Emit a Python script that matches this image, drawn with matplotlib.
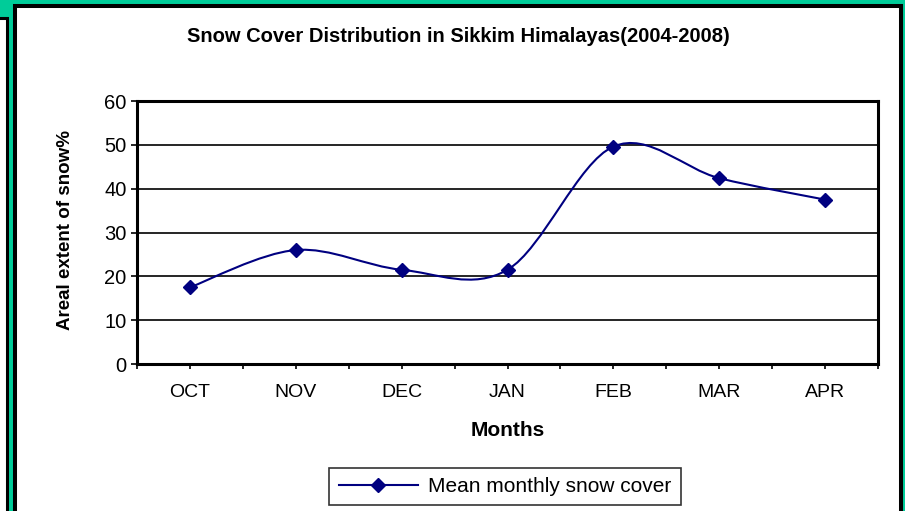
import numpy as np
import matplotlib
matplotlib.use('Agg')
import matplotlib.pyplot as plt
from matplotlib.path import Path
from matplotlib.patches import PathPatch, Rectangle
from matplotlib.lines import Line2D

plt.rcParams['font.family'] = ['Liberation Sans', 'DejaVu Sans']

# data
months = ['OCT', 'NOV', 'DEC', 'JAN', 'FEB', 'MAR', 'APR']
snow = [17.5, 26.0, 21.5, 21.5, 49.6, 42.4, 37.5]
series_name = 'Mean monthly snow cover'

W, H = 905, 511
teal = '#00CC99'
navy = '#000080'

fig = plt.figure(figsize=(W / 100, H / 100), dpi=100, facecolor=teal)


def px_rect(x0, y0, x1, y1, lw):
    # rectangle in pixel coords (y from top)
    return Rectangle((x0 / W, 1 - y1 / H), (x1 - x0) / W, (y1 - y0) / H,
                     transform=fig.transFigure, facecolor='white',
                     edgecolor='black', linewidth=lw, zorder=-5)


fig.patches.append(px_rect(-20, 18.5, 6.5, 530, 2.2))
fig.patches.append(px_rect(15, 5.5, 900.5, 530, 2.9))

ax = fig.add_axes([137 / W, 1 - 364 / H, 741 / W, 263 / H])
ax.set_facecolor('white')

x = np.arange(len(months)) + 0.5
pts = np.column_stack([x, snow])

# smoothed line (Excel style bezier through the points)
verts = [pts[0]]
codes = [Path.MOVETO]
n = len(pts)
for i in range(n - 1):
    p0 = pts[max(i - 1, 0)]
    p1 = pts[i]
    p2 = pts[i + 1]
    p3 = pts[min(i + 2, n - 1)]
    c1 = p1 + (p2 - p0) / 6
    c2 = p2 - (p3 - p1) / 6
    verts += [c1, c2, p2]
    codes += [Path.CURVE4] * 3
ax.add_patch(PathPatch(Path(verts, codes), fill=False, edgecolor=navy,
                       linewidth=1.5, zorder=3))
ax.plot(x, snow, linestyle='none', marker='D', markersize=7.5,
        color=navy, zorder=4)

ax.set_xlim(0, 7)
ax.set_ylim(0, 60)
ax.set_yticks(range(0, 61, 10))
ax.set_xticks(x)
ax.set_xticks(np.arange(0, 8), minor=True)
ax.set_xticklabels(months)
ax.grid(axis='y', color='black', linewidth=1.2)
ax.set_axisbelow(True)

for s in ax.spines.values():
    s.set_linewidth(2.2)
    s.set_color('black')

ax.tick_params(axis='y', direction='out', length=4.5, width=1.2,
               labelsize=14.5, pad=3)
ax.tick_params(axis='x', which='both', direction='out', length=3.5,
               width=1.2, labelsize=14, pad=11)

ax.set_ylabel('Areal extent of snow%', fontsize=13.5, fontweight='bold')
ax.yaxis.set_label_coords(-0.096, 0.51)
ax.yaxis.label.set_verticalalignment('center')
ax.set_xlabel('Months', fontsize=15, fontweight='bold')
ax.xaxis.set_label_coords(0.5, -0.251)
ax.xaxis.label.set_verticalalignment('center')

fig.text(458 / W, 1 - 37 / H,
         'Snow Cover Distribution in Sikkim Himalayas(2004-2008)',
         ha='center', va='center', fontsize=14.5, fontweight='bold')

handle = Line2D([], [], color=navy, linewidth=1.5, marker='D',
                markersize=7.5)
leg = fig.legend([handle], [series_name], loc='center',
                 bbox_to_anchor=(505 / W, 1 - 486.5 / H), fontsize=15,
                 frameon=True, fancybox=False, handlelength=3.8,
                 borderpad=0.45, handletextpad=0.5)
leg.get_frame().set_edgecolor('black')
leg.get_frame().set_linewidth(1.2)

fig.savefig('out.png', dpi=100, facecolor=teal)
